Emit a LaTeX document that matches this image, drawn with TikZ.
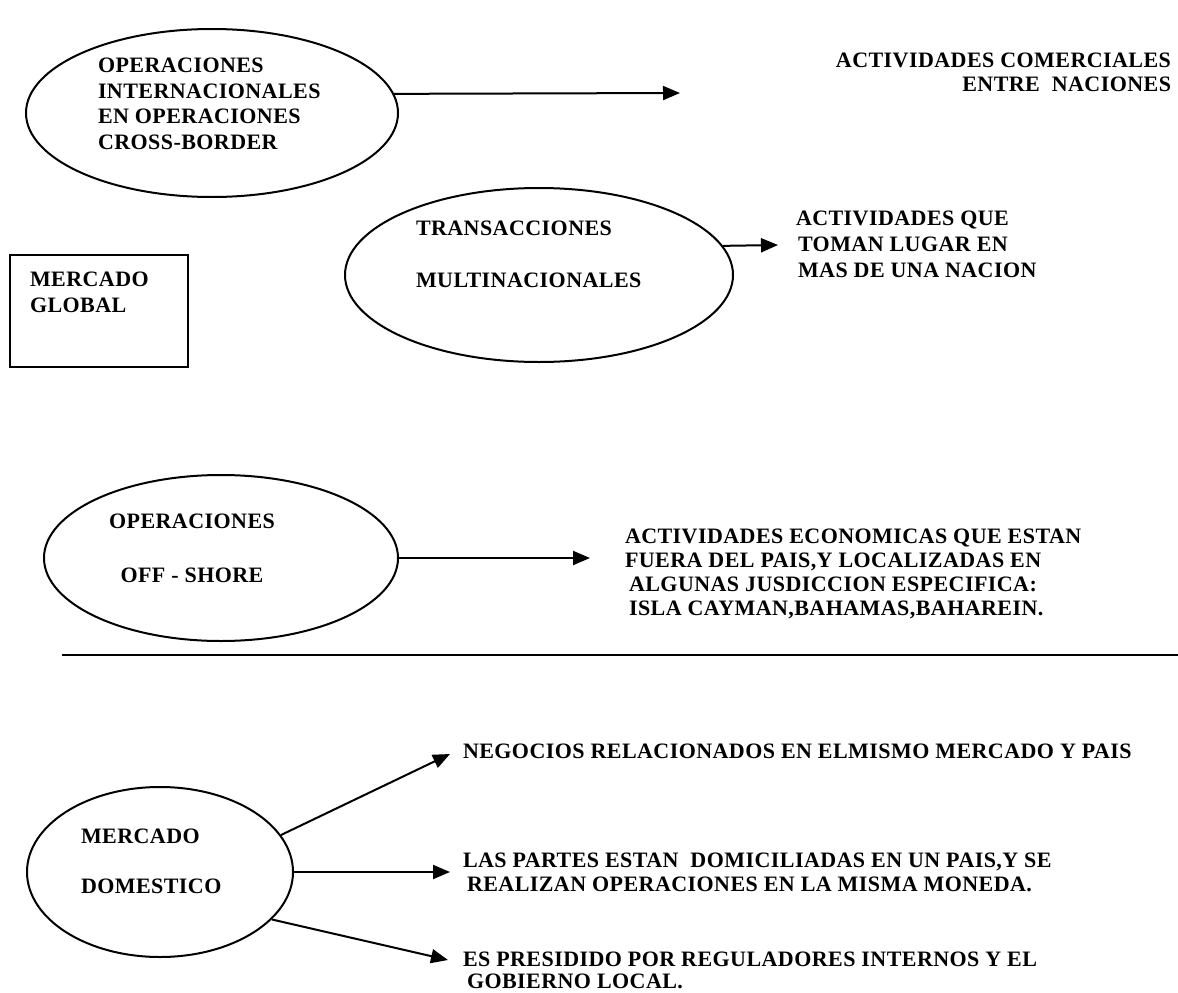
\documentclass[tikz,border=0pt]{standalone}
\usepackage{fontspec}
\setmainfont{Liberation Serif}[LetterSpace=2]
\usetikzlibrary{shapes.geometric,arrows.meta}
\newcommand{\ind}{\hspace*{4pt}}
\begin{document}
\begin{tikzpicture}[x=1pt,y=-1pt,
  line width=2pt,
  oval/.style={draw,ellipse,inner sep=0pt},
  txt/.style={inner sep=0pt,anchor=north west,align=left,
    font=\bfseries\fontsize{22}{#1}\selectfont},
  txt/.default=26,
  conn/.style={-{Triangle[length=17pt,width=14pt]}}]
\useasboundingbox (0,0) rectangle (1178,993);

% upper block: global market
\node[oval,minimum width=372pt,minimum height=168pt] (e1) at (212,113) {};
\node[txt=25.5] (t1) at (97,57) {OPERACIONES\\INTERNACIONALES\\EN OPERACIONES\\CROSS-BORDER};
\coordinate (p1) at (680,93);
\draw[conn] (e1.6) -- (p1);
\node[txt=24,anchor=north east,align=right] (r1) at (1172,52) {ACTIVIDADES COMERCIALES\\ENTRE\ \ NACIONES};

\node[oval,minimum width=388pt,minimum height=174pt] (e2) at (539,275) {};
\node[txt=52] (t2) at (415,220) {TRANSACCIONES\\MULTINACIONALES};
\coordinate (p2) at (778,245);
\draw[conn] (e2.9) -- (p2);
\node[txt] (r2) at (795,210) {ACTIVIDADES QUE\\\hspace*{2pt}TOMAN LUGAR EN\\\hspace*{2pt}MAS DE UNA NACION};

\node[draw,rectangle,inner sep=0pt,minimum width=178pt,minimum height=112pt] (mg) at (99,311) {};
\node[txt] (tg) at (29,271) {MERCADO\\GLOBAL};

\node[oval,minimum width=354pt,minimum height=166pt] (e3) at (221,558) {};
\node[txt=54,align=center,anchor=north] (t3) at (192,513) {OPERACIONES\\OFF - SHORE};
\coordinate (p3) at (590,558);
\draw[conn] (e3.east) -- (p3);
\node[txt=24] (r3) at (624,528) {ACTIVIDADES ECONOMICAS QUE ESTAN\\FUERA DEL PAIS,Y LOCALIZADAS EN\\\ind ALGUNAS JUSDICCION ESPECIFICA:\\\ind ISLA CAYMAN,BAHAMAS,BAHAREIN.};

% separator
\coordinate (s1) at (62,655);
\coordinate (s2) at (1178,655);
\draw (s1) -- (s2);

% lower block: domestic market
\node[oval,minimum width=266pt,minimum height=170pt] (e4) at (160,872) {};
\node[txt=50] (t4) at (80,828) {MERCADO\\DOMESTICO};
\coordinate (p4) at (450,754);
\coordinate (p5) at (450,872);
\coordinate (p6) at (448,960);
\draw[conn] (e4.17) -- (p4);
\draw[conn] (e4.east) -- (p5);
\draw[conn] (e4.337) -- (p6);
\node[txt] (r4) at (462,743) {NEGOCIOS RELACIONADOS EN ELMISMO MERCADO Y PAIS};
\node[txt=24] (r5) at (462,852) {LAS PARTES ESTAN\ \ DOMICILIADAS EN UN PAIS,Y SE\\\ind REALIZAN OPERACIONES EN LA MISMA MONEDA.};
\node[txt=22] (r6) at (462,951) {ES PRESIDIDO POR REGULADORES INTERNOS Y EL\\\ind GOBIERNO LOCAL.};
\end{tikzpicture}
\end{document}
